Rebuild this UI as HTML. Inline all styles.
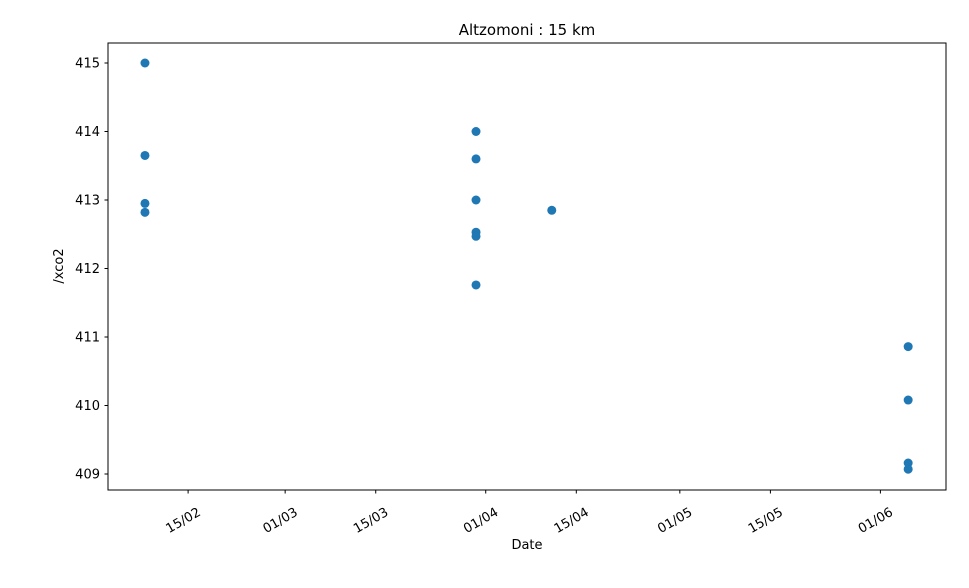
<!DOCTYPE html>
<html><head><meta charset="utf-8"><style>
body{margin:0;background:#fff;font-family:"Liberation Sans","DejaVu Sans",sans-serif;}
svg text{font-family:"DejaVu Sans","Liberation Sans",sans-serif;}
</style></head><body>
<svg id="chart" width="969" height="583" xmlns="http://www.w3.org/2000/svg">
<rect x="0" y="0" width="969" height="583" fill="#fff"/>
<text x="527" y="35" text-anchor="middle" font-size="15">Altzomoni : 15 km</text>
<g id="plot"></g>
<rect x="108" y="43" width="838" height="447" fill="none" stroke="#000" stroke-width="1"/>
<text x="527" y="549" text-anchor="middle" font-size="13">Date</text>
<text transform="translate(63,266) rotate(-90)" text-anchor="middle" font-size="13">/xco2</text>
</svg>
<script>
const dates = ["2020-02-08T08:00","2020-02-08T08:00","2020-02-08T08:00","2020-02-08T08:00",
  "2020-03-30T12:00","2020-03-30T12:00","2020-03-30T12:00","2020-03-30T12:00","2020-03-30T12:00","2020-03-30T12:00",
  "2020-04-11T05:00","2020-06-05T07:00","2020-06-05T07:00","2020-06-05T07:00","2020-06-05T07:00"];
const xco2 = [415.0,413.65,412.95,412.82,414.0,413.6,413.0,412.53,412.47,411.76,412.85,410.86,410.08,409.16,409.07];
const xTickDates = ["2020-02-15","2020-03-01","2020-03-15","2020-04-01","2020-04-15","2020-05-01","2020-05-15","2020-06-01"];
const xTickLabels = ["15/02","01/03","15/03","01/04","15/04","01/05","15/05","01/06"];
const yTicks = [409,410,411,412,413,414,415];

const NS="http://www.w3.org/2000/svg";
const t0=Date.parse("2020-02-15T00:00Z"), t1=Date.parse("2020-06-01T00:00Z");
function xScale(d){const t=Date.parse(d+(d.length>10?"Z":"T00:00Z"));return 188.1+(t-t0)/(t1-t0)*(880.4-188.1);}
function yScale(v){return 63+(415-v)*68.5;}
const g=document.getElementById('plot');
function mk(tag,attrs){const e=document.createElementNS(NS,tag);for(const k in attrs)e.setAttribute(k,attrs[k]);return e;}
yTicks.forEach(v=>{
  const y=yScale(v);
  const l=mk('line',{x1:104.5,x2:108,y1:y,y2:y,stroke:'#000'});
  
  
  g.appendChild(l);
  const t=mk('text',{x:100,y:y+4.5,'text-anchor':'end','font-size':13});
  
  
  t.textContent=v;g.appendChild(t);
});
xTickDates.forEach((d,i)=>{
  const x=xScale(d);
  const l=mk('line',{x1:x,x2:x,y1:490,y2:493.5,stroke:'#000'});
  
  
  g.appendChild(l);
  const t=mk('text',{transform:`translate(${x+9},${507}) rotate(-30)`,'text-anchor':'end','font-size':13,'dominant-baseline':'hanging'});
  
  
  t.textContent=xTickLabels[i];g.appendChild(t);
});
dates.forEach((d,i)=>{
  const c=mk('circle',{cx:xScale(d),cy:yScale(xco2[i]),r:4.5,fill:'#1f77b4'});
  
  
  g.appendChild(c);
});
</script>
</body></html>
